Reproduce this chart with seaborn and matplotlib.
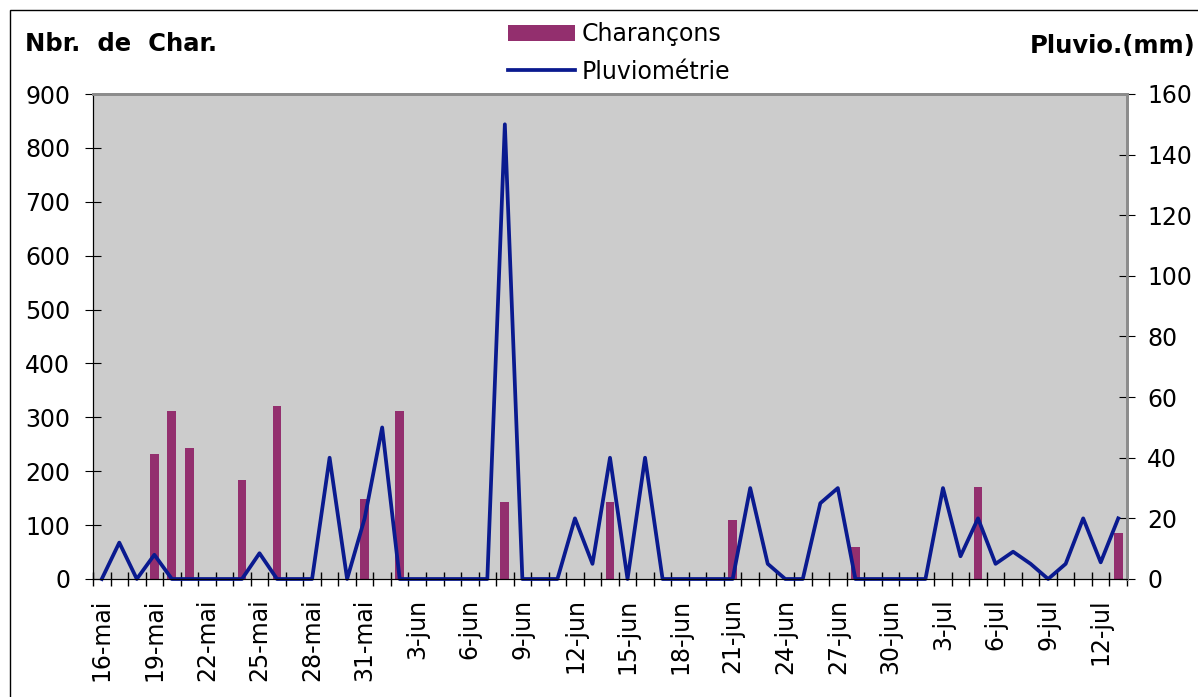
import numpy as np
import pandas as pd
import matplotlib
matplotlib.use('Agg')
import matplotlib.pyplot as plt
import seaborn as sns
from matplotlib.patches import Patch, Rectangle
from matplotlib.lines import Line2D
from matplotlib.ticker import FixedLocator

# jours relevés : du 16 mai au 13 juillet
jours = pd.date_range('2000-05-16', '2000-07-13', freq='D')
mois = {5: 'mai', 6: 'jun', 7: 'jul'}
etiquettes = [f'{d.day}-{mois[d.month]}' for d in jours]

# nombre de charançons (0 = rien)
charancons = [0, 0, 0, 232, 312, 243, 0, 0, 184, 0,
              321, 0, 0, 0, 0, 148, 0, 311, 0, 0,
              0, 0, 0, 143, 0, 0, 0, 0, 0, 143,
              0, 0, 0, 0, 0, 0, 110, 0, 0, 0,
              0, 0, 0, 60, 0, 0, 0, 0, 0, 0,
              170, 0, 0, 0, 0, 0, 0, 0, 85]

# pluviométrie en mm
pluvio = [0, 12, 0, 8, 0, 0, 0, 0, 0, 8.5,
          0, 0, 0, 40, 0, 20, 50, 0, 0, 0,
          0, 0, 0, 150, 0, 0, 0, 20, 5, 40,
          0, 40, 0, 0, 0, 0, 0, 30, 5, 0,
          0, 25, 30, 0, 0, 0, 0, 0, 30, 7.5,
          20, 5, 9, 5, 0, 5, 20, 5.5, 20]

ticks_gauche = list(range(0, 901, 100))
ticks_droite = list(range(0, 161, 20))

df = pd.DataFrame({'jour': etiquettes, 'charancons': charancons,
                   'pluvio': pluvio, 'pos': np.arange(len(etiquettes))})

col_bar = '#932F6E'
col_line = '#0A1A8F'
plt.rcParams['font.family'] = ['DejaVu Sans']

fig = plt.figure(figsize=(11.98, 6.97), dpi=100)
ax = fig.add_axes([93 / 1198, 118 / 697, 1034 / 1198, 485 / 697])
ax.set_facecolor('#CCCCCC')

sns.barplot(data=df, x='jour', y='charancons', color=col_bar, width=0.5,
            saturation=1, ax=ax)
ax.set_xlim(-0.5, len(etiquettes) - 0.5)
ax.set_ylim(0, 900)
ax.set_yticks(ticks_gauche)
ax.set_xlabel('')
ax.set_ylabel('')

ax2 = ax.twinx()
sns.lineplot(data=df, x='pos', y='pluvio', color=col_line, lw=2.7, ax=ax2, clip_on=False)
ax2.set_ylim(0, 160)
ax2.set_yticks(ticks_droite)
ax2.set_xlabel('')
ax2.set_ylabel('')
ax2.set_xlim(-0.5, len(etiquettes) - 0.5)

# ticks x : étiquettes tous les 3 jours, traits aux limites des catégories
pos_lab = list(range(0, len(etiquettes), 3))
ax.set_xticks(pos_lab)
ax.set_xticklabels([etiquettes[i] for i in pos_lab], rotation=90, fontsize=17)
ax.xaxis.set_minor_locator(FixedLocator(np.arange(-0.5, len(etiquettes), 1)))
ax.tick_params(axis='x', which='major', length=0, pad=14)
ax.tick_params(axis='x', which='minor', direction='inout', length=10, width=1)
ax.tick_params(axis='y', direction='inout', length=11, labelsize=17, pad=11)
ax2.tick_params(axis='y', direction='inout', length=11, labelsize=17, pad=9)

for a in (ax, ax2):
    a.spines['top'].set_color('#8C8C8C')
    a.spines['top'].set_linewidth(2)
    a.spines['right'].set_color('#8C8C8C')
    a.spines['right'].set_linewidth(2)
    a.spines['left'].set_color('black')
    a.spines['bottom'].set_color('black')

fig.text(25 / 1198, 1 - 44 / 697, 'Nbr.  de  Char.', fontsize=17.5, fontweight='bold',
         ha='left', va='center')
fig.text(1195 / 1198, 1 - 46 / 697, 'Pluvio.(mm)', fontsize=17.5, fontweight='bold',
         ha='right', va='center')

handles = [Patch(facecolor=col_bar, edgecolor='none'),
           Line2D([], [], color=col_line, lw=2.7)]
fig.legend(handles, ['Charançons', 'Pluviométrie'], loc='upper left',
           bbox_to_anchor=(499 / 1198, 1 - 13 / 697), fontsize=17,
           frameon=True, facecolor='white', edgecolor='none', framealpha=1,
           fancybox=False, borderpad=0.4, handlelength=2.8, handletextpad=0.3,
           labelspacing=0.56, borderaxespad=0)

# cadre du graphique
fig.add_artist(Rectangle((9.5 / 1198, -0.1), 1.2, 1 - 9.5 / 697 + 0.1,
                         transform=fig.transFigure, fill=False, lw=1, ec='black'))

fig.savefig('out.png', dpi=100)
